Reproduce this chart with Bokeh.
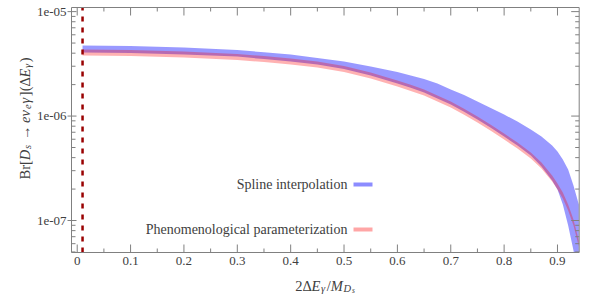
import math
from bokeh.plotting import figure
from bokeh.models import Range1d, Label
from bokeh.core.properties import value
from bokeh.embed import file_html
from bokeh.resources import INLINE

# ---------------- data ----------------
x_vals = [0.01, 0.1, 0.2, 0.3, 0.35, 0.4, 0.45, 0.5, 0.55, 0.6, 0.625, 0.65,
          0.675, 0.7, 0.725, 0.75, 0.775, 0.8, 0.825, 0.85, 0.87, 0.89, 0.9,
          0.91, 0.92, 0.93, 0.94]
spline_upper = [4.727e-6, 4.676e-6, 4.523e-6, 4.280e-6, 4.087e-6, 3.876e-6,
                3.604e-6, 3.322e-6, 2.982e-6, 2.637e-6, 2.452e-6, 2.259e-6,
                2.046e-6, 1.793e-6, 1.595e-6, 1.376e-6, 1.195e-6, 1.034e-6,
                8.858e-7, 7.427e-7, 6.364e-7, 5.220e-7, 4.574e-7, 3.836e-7,
                3.076e-7, 2.162e-7, 1.423e-7]
spline_lower = [4.051e-6, 4.007e-6, 3.876e-6, 3.709e-6, 3.511e-6, 3.322e-6,
                3.110e-6, 2.818e-6, 2.452e-6, 2.046e-6, 1.862e-6, 1.678e-6,
                1.476e-6, 1.288e-6, 1.097e-6, 9.259e-7, 7.710e-7, 6.364e-7,
                5.220e-7, 4.188e-7, 3.287e-7, 2.414e-7, 1.980e-7, 1.423e-7,
                8.956e-8, 5.162e-8, 2.388e-8]
pheno_upper = [4.328e-6, 4.280e-6, 4.141e-6, 3.920e-6, 3.750e-6, 3.548e-6,
               3.322e-6, 3.010e-6, 2.619e-6, 2.186e-6, 1.989e-6, 1.793e-6,
               1.577e-6, 1.376e-6, 1.172e-6, 9.890e-7, 8.237e-7, 6.798e-7,
               5.577e-7, 4.474e-7, 3.589e-7, 2.696e-7, 2.259e-7, 1.853e-7,
               1.423e-7, 1.022e-7, 6.435e-8]
pheno_lower = [3.791e-6, 3.750e-6, 3.628e-6, 3.434e-6, 3.287e-6, 3.110e-6,
               2.911e-6, 2.637e-6, 2.295e-6, 1.915e-6, 1.742e-6, 1.571e-6,
               1.382e-6, 1.206e-6, 1.027e-6, 8.666e-7, 7.218e-7, 5.957e-7,
               4.887e-7, 3.920e-7, 3.145e-7, 2.361e-7, 1.980e-7, 1.624e-7,
               1.246e-7, 8.956e-8, 5.638e-8]
x_cut = 0.01

series_names = ["Spline interpolation", "Phenomenological parameterization"]

x_ticks = [0.0, 0.1, 0.2, 0.3, 0.4, 0.5, 0.6, 0.7, 0.8, 0.9]
x_tick_labels = ["0", "0.1", "0.2", "0.3", "0.4", "0.5", "0.6", "0.7", "0.8", "0.9"]
x_minor = [0.05, 0.15, 0.25, 0.35, 0.45, 0.55, 0.65, 0.75, 0.85]
y_ticks = [1e-7, 1e-6, 1e-5]
y_tick_labels = ["1e-07", "1e-06", "1e-05"]
y_minor = [m * 10.0 ** e for e in (-8, -7, -6) for m in range(2, 10)]

# axis limits of the plotting box
X0, X1 = -0.0107, 0.9407
Y0, Y1 = 4.94e-8, 1.095e-5

# ---------------- layout / style ----------------
FONT = "Liberation Serif"
AX = "#808080"
TXT = "#404040"
W, H = 591, 295
BOX_L, BOX_R, BOX_T, BOX_B = 71, 578.7, 7, 252
lY0, lY1 = math.log10(Y0), math.log10(Y1)

def px_x(px):
    return X0 + (px - BOX_L) * (X1 - X0) / (BOX_R - BOX_L)

def px_y(py):
    return 10 ** (lY1 - (py - BOX_T) * (lY1 - lY0) / (BOX_B - BOX_T))

p = figure(width=W, height=H, y_axis_type="log",
           x_range=Range1d(px_x(0), px_x(W)), y_range=Range1d(px_y(H), px_y(0)),
           output_backend="svg", toolbar_location=None,
           x_axis_location=None, y_axis_location=None, min_border=0)
p.xgrid.visible = False
p.ygrid.visible = False
p.outline_line_color = None
p.background_fill_color = "white"
p.border_fill_color = "white"

# bands
p.varea(x=x_vals, y1=spline_lower, y2=spline_upper, fill_color="blue", fill_alpha=0.4)
p.varea(x=x_vals, y1=pheno_lower, y2=pheno_upper, fill_color="red", fill_alpha=0.3)
# keep the bands inside the plotting box
p.quad(left=[px_x(0)], right=[px_x(W)], bottom=[px_y(H)], top=[Y0],
       fill_color="white", line_color=None)

# dashed cut line
p.segment(x0=[x_cut], y0=[Y0], x1=[x_cut], y1=[Y1], line_color="#990000",
          line_width=2.5, line_dash="5 6")

# box
p.line(x=[X0, X1, X1, X0, X0], y=[Y0, Y0, Y1, Y1, Y0], line_color=AX, line_width=1)

# ticks (inward on all sides, major left ticks also stick out)
xm = [t for t in x_minor if X0 <= t <= X1]
ym = [t for t in y_minor if Y0 <= t <= Y1]
def rays(xs, ys, length, ang):
    p.ray(x=xs, y=ys, length=length, angle=ang, length_units="screen",
          line_color=AX, line_width=1)
rays(x_ticks, [Y0] * len(x_ticks), 8, math.pi / 2)
rays(xm, [Y0] * len(xm), 4, math.pi / 2)
rays(x_ticks, [Y1] * len(x_ticks), 8, -math.pi / 2)
rays(xm, [Y1] * len(xm), 4, -math.pi / 2)
rays([X0] * len(y_ticks), y_ticks, 5, 0)
rays([X0] * len(y_ticks), y_ticks, 4, math.pi)
rays([X0] * len(ym), ym, 4, 0)
rays([X1] * len(y_ticks), y_ticks, 8, math.pi)
rays([X1] * len(ym), ym, 4, math.pi)

# tick labels
p.text(x=x_ticks, y=[Y0] * len(x_ticks), text=x_tick_labels, y_offset=4,
       text_align="center", text_baseline="top", text_font=value(FONT),
       text_font_size="13px", text_color=TXT)
p.text(x=[X0] * len(y_ticks), y=y_ticks, text=y_tick_labels, x_offset=-5,
       text_align="right", text_baseline="middle", text_font=value(FONT),
       text_font_size="13px", text_color=TXT)

# legend (gnuplot style: text, then sample)
leg_rows = [184, 229]
leg_colors = [("blue", 0.45), ("red", 0.35)]
for name, py, (c, a) in zip(series_names, leg_rows, leg_colors):
    p.add_layout(Label(x=px_x(347), y=px_y(py), text=name, text_align="right",
                       text_baseline="middle", text_font=FONT,
                       text_font_size="14px", text_color=TXT))
    p.line(x=[px_x(353), px_x(372)], y=[px_y(py), px_y(py)],
           line_color=c, line_alpha=a, line_width=4)

# ---------------- axis titles with sub-scripts, built from pieces ----------------
W_ROMAN = {'2': .5, '\u0394': .612, '/': .278, 'B': .667, 'r': .333, '[': .333,
           ']': .333, '(': .333, ')': .333, ' ': .25, '\u2192': .9}
W_ITAL = {'E': .611, 'M': .833, 'D': .722, 's': .389, 'e': .444,
          '\u03bd': .46, '\u03b3': .46}

def piece_width(piece):
    text, italic, size, _shift, extra = piece
    tbl = W_ITAL if italic else W_ROMAN
    return sum(tbl.get(ch, .5) for ch in text) * size + (0.8 if italic else 0) + extra

def add_title(pieces, start, base, vertical):
    pos = start
    for piece in pieces:
        text, italic, size, shift, extra = piece
        if text:
            if vertical:
                x, y, ang = base + shift, pos, math.pi / 2
            else:
                x, y, ang = pos, base + shift, 0
            p.add_layout(Label(x=px_x(x), y=px_y(y), text=text, angle=ang,
                               text_align="left", text_baseline="alphabetic",
                               text_font=FONT, text_font_size=f"{size}px",
                               text_font_style="italic" if italic else "normal",
                               text_color=TXT))
        w = piece_width(piece)
        pos = pos - w if vertical else pos + w

S, SS, SSS = 14.5, 10.5, 7.5
xlabel_pieces = [("2\u0394", False, S, 0, 0), ("E", True, S, 0, 0),
                 ("\u03b3", True, SS, 3, 0), ("/", False, S, 0, 0),
                 ("M", True, S, 0, 0), ("D", True, SS, 3, 0), ("s", True, SSS, 5, 0)]
ylabel_pieces = [("Br[", False, S, 0, 0), ("D", True, S, 0, 0), ("s", True, SS, 3, 0),
                 ("", False, S, 0, 4), ("\u2192", False, S, 0, 0), ("", False, S, 0, 4),
                 ("e\u03bd", True, S, 0, 0), ("e", True, SS, 3, 0),
                 ("\u03b3", True, S, 0, 0), ("](\u0394", False, S, 0, 0),
                 ("E", True, S, 0, 0), ("\u03b3", True, SS, 3, 0), (")", False, S, 0, 0)]

xw = sum(piece_width(pc) for pc in xlabel_pieces)
yw = sum(piece_width(pc) for pc in ylabel_pieces)
add_title(xlabel_pieces, 325 - xw / 2, 285, vertical=False)
add_title(ylabel_pieces, 118 + yw / 2, 24, vertical=True)

open("out.html", "w").write(file_html(p, INLINE))
